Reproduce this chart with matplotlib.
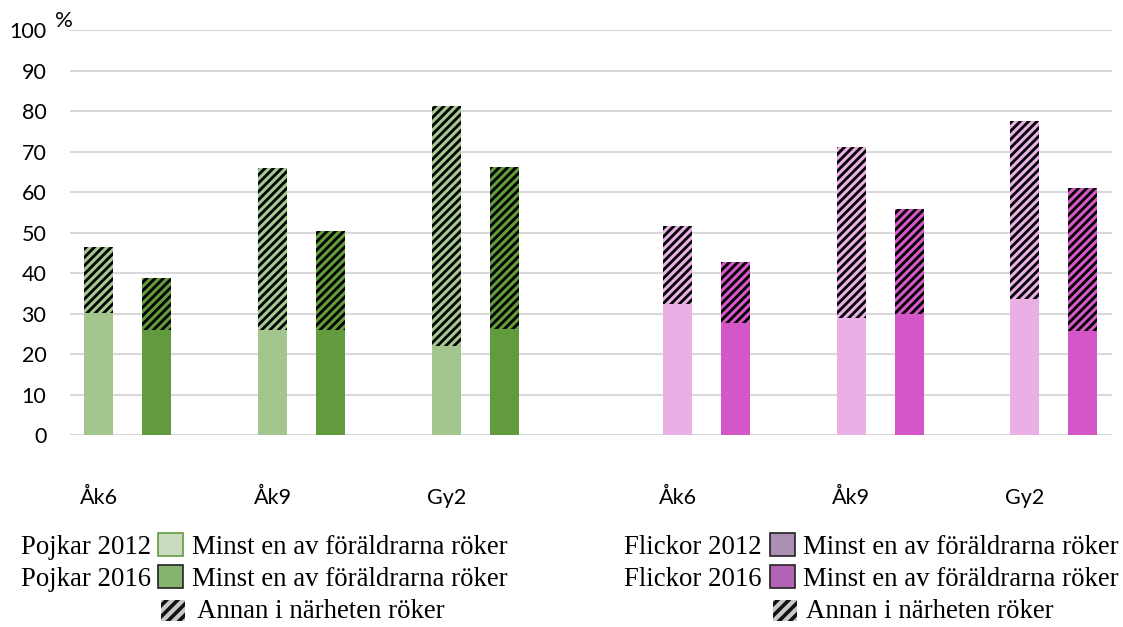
import matplotlib.pyplot as plt
from matplotlib.patches import Rectangle

# data (percent)
groups = ["Åk6", "Åk9", "Gy2"]
pojkar2012_base = [30.2, 26.0, 22.0]
pojkar2012_annan = [16.3, 39.9, 59.3]
pojkar2016_base = [25.9, 26.0, 26.1]
pojkar2016_annan = [13.0, 24.3, 40.0]
flickor2012_base = [32.3, 28.9, 33.6]
flickor2012_annan = [19.3, 42.2, 43.9]
flickor2016_base = [27.7, 29.9, 25.7]
flickor2016_annan = [15.0, 25.9, 35.4]

# slot positions for the bars (units of one bar slot)
pos_p12 = [0, 3, 6]
pos_p16 = [1, 4, 7]
pos_f12 = [10, 13, 16]
pos_f16 = [11, 14, 17]

c_p12 = "#A3C68F"
c_p16 = "#629A3E"
c_f12 = "#EAB0E6"
c_f16 = "#D457C8"

plt.rcParams["hatch.linewidth"] = 2.0

fig = plt.figure(figsize=(11.23, 6.27), dpi=100)
ax = fig.add_axes([0.0623, 0.3062, 0.9277, 0.6458])

w = 0.5
series = [
    (pos_p12, pojkar2012_base, pojkar2012_annan, c_p12),
    (pos_p16, pojkar2016_base, pojkar2016_annan, c_p16),
    (pos_f12, flickor2012_base, flickor2012_annan, c_f12),
    (pos_f16, flickor2016_base, flickor2016_annan, c_f16),
]
for pos, base, annan, col in series:
    ax.bar(pos, annan, width=w, bottom=base, color=col, edgecolor="black",
           hatch="////", linewidth=0, zorder=3)
    ax.bar(pos, base, width=w, color=col, linewidth=0, zorder=4)

ax.set_xlim(-0.5, 17.5)
ax.set_ylim(0, 100)
ax.set_yticks(range(0, 101, 10))
ax.grid(axis="y", color="#D9D9D9", linewidth=1.5, zorder=0)
for s in ax.spines.values():
    s.set_visible(False)
ax.set_xticks(pos_p12 + pos_f12)
ax.set_xticklabels(groups + groups)
ax.tick_params(axis="x", length=0, pad=38, labelsize=15.5)
ax.tick_params(axis="y", length=0, pad=17, labelsize=15.5)
for lab in ax.get_xticklabels() + ax.get_yticklabels():
    lab.set_fontfamily("Lato")
fig.text(55 / 1123, 1 - 21 / 627, "%", fontsize=16, family="Lato", va="center")

# custom legend in figure pixels
W, H = 1123, 627


def swatch(x, y, w, h, face, edge, hatch=None, lw=1.2):
    r = Rectangle((x / W, 1 - (y + h) / H), w / W, h / H, transform=fig.transFigure,
                  facecolor=face, edgecolor=edge, linewidth=lw, hatch=hatch)
    fig.add_artist(r)


def txt(x, y, s, ha="left"):
    fig.text(x / W, 1 - y / H, s, fontsize=19.3, family="Liberation Serif", va="center", ha=ha)


lab = "Minst en av föräldrarna röker"
txt(151, 548, "Pojkar 2012", ha="right")
swatch(158, 533, 25, 23, "#C9DCBF", "#629A3E")
txt(192, 548, lab)
txt(151, 580, "Pojkar 2016", ha="right")
swatch(158, 565, 25, 23, "#87B370", "#222222")
txt(192, 580, lab)

txt(762, 548, "Flickor 2012", ha="right")
swatch(770, 533, 25, 23, "#AE8FB4", "#222222")
txt(803, 548, lab)
txt(762, 580, "Flickor 2016", ha="right")
swatch(770, 565, 25, 23, "#B464B4", "#222222")
txt(803, 580, lab)

plt.rcParams["hatch.linewidth"] = 2.6
swatch(161, 600, 24, 21, "#C8C8C8", "#111111", hatch="///", lw=0)
txt(197, 612, "Annan i närheten röker")
swatch(773, 600, 24, 21, "#C8C8C8", "#111111", hatch="///", lw=0)
txt(806, 612, "Annan i närheten röker")

fig.savefig("out.png", dpi=100)
